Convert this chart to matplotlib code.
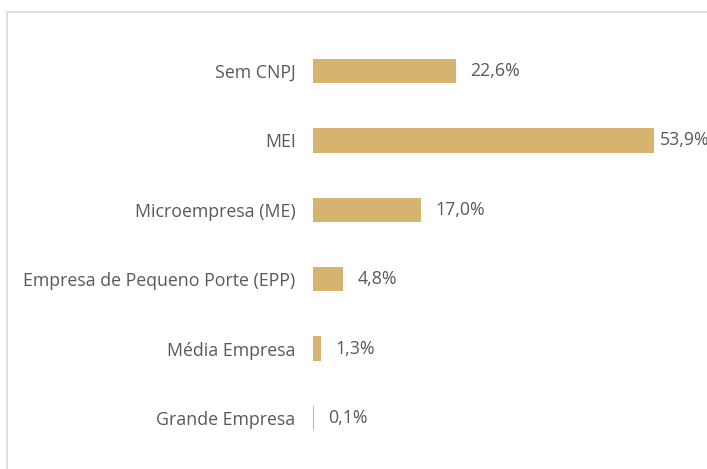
import matplotlib.pyplot as plt
from matplotlib.patches import Rectangle

categories = [
    "Sem CNPJ",
    "MEI",
    "Microempresa (ME)",
    "Empresa de Pequeno Porte (EPP)",
    "Média Empresa",
    "Grande Empresa",
]
values = [22.6, 53.9, 17.0, 4.8, 1.3, 0.1]
labels = ["22,6%", "53,9%", "17,0%", "4,8%", "1,3%", "0,1%"]

BAR = "#D6B36E"
TXT = "#595959"

plt.rcParams["font.family"] = ["Open Sans", "DejaVu Sans"]

W, H = 707, 469
fig = plt.figure(figsize=(W / 100, H / 100), dpi=100)

# chart area border (partly cropped in the original)
fig.patches.append(Rectangle((6.5 / W, -0.1), 1.2, (H - 12.5) / H + 0.1,
                             transform=fig.transFigure, fill=False,
                             edgecolor="#d9d9d9", lw=1.2))

# axes placed so that bar 0 sits at x=313 px, 53.9% ends at x=654 px
left, right = 313, 654
top, bottom = 36.3, 452.7
ax = fig.add_axes([left / W, 1 - bottom / H, (right - left) / W, (bottom - top) / H])

y = list(range(len(categories)))
ax.barh(y, values, height=0.35, color=BAR)
ax.set_xlim(0, 53.9)
ax.set_ylim(len(categories) - 0.5, -0.5)

vmax = max(values)
for yi, v, lab in zip(y, values, labels):
    # the longest bar's label gets squeezed against the edge, like in Excel
    off = 4 if v == vmax else 10.5
    ax.annotate(lab, xy=(v, yi), xytext=(off, 0), textcoords="offset points",
                va="center", ha="left", fontsize=12.8, color=TXT, clip_on=False)

ax.set_yticks(y)
ax.set_yticklabels(categories, fontsize=12.8, color=TXT)
ax.tick_params(axis="y", length=0, pad=12.5)
ax.set_xticks([])
for s in ax.spines.values():
    s.set_visible(False)

fig.savefig("out.png", dpi=100)
